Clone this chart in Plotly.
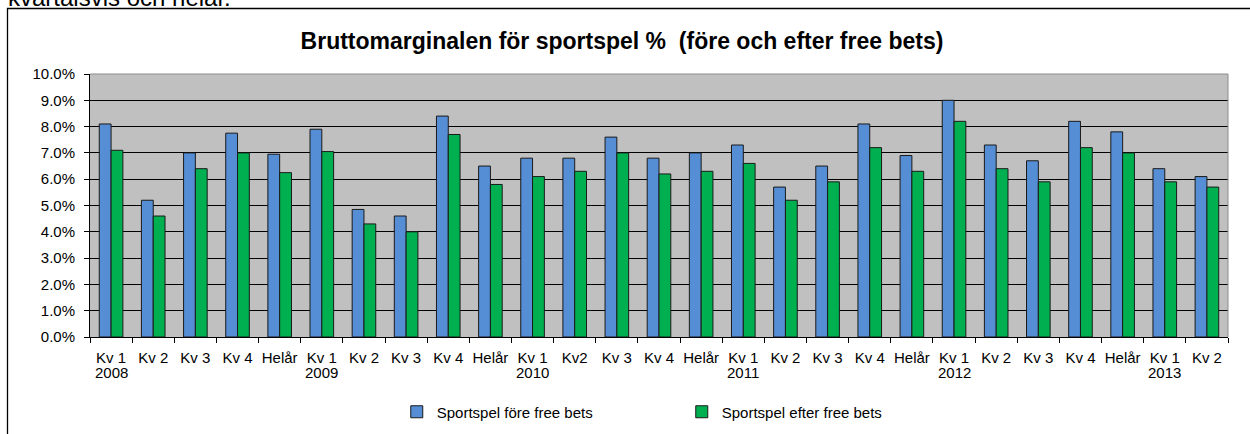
import plotly.graph_objects as go

# ---- data ----
periods = [
    ("2008", "Kv 1"), ("2008", "Kv 2"), ("2008", "Kv 3"), ("2008", "Kv 4"), ("2008", "Helår"),
    ("2009", "Kv 1"), ("2009", "Kv 2"), ("2009", "Kv 3"), ("2009", "Kv 4"), ("2009", "Helår"),
    ("2010", "Kv 1"), ("2010", "Kv2"), ("2010", "Kv 3"), ("2010", "Kv 4"), ("2010", "Helår"),
    ("2011", "Kv 1"), ("2011", "Kv 2"), ("2011", "Kv 3"), ("2011", "Kv 4"), ("2011", "Helår"),
    ("2012", "Kv 1"), ("2012", "Kv 2"), ("2012", "Kv 3"), ("2012", "Kv 4"), ("2012", "Helår"),
    ("2013", "Kv 1"), ("2013", "Kv 2"),
]
fore_free_bets = [8.1, 5.2, 7.0, 7.75, 6.95,
                  7.9, 4.85, 4.6, 8.4, 6.5,
                  6.8, 6.8, 7.6, 6.8, 7.0,
                  7.3, 5.7, 6.5, 8.1, 6.9,
                  9.0, 7.3, 6.7, 8.2, 7.8,
                  6.4, 6.1]
efter_free_bets = [7.1, 4.6, 6.4, 7.0, 6.25,
                   7.05, 4.3, 4.0, 7.7, 5.8,
                   6.1, 6.3, 7.0, 6.2, 6.3,
                   6.6, 5.2, 5.9, 7.2, 6.3,
                   8.2, 6.4, 5.9, 7.2, 7.0,
                   5.9, 5.7]
y_ticks = [0, 1, 2, 3, 4, 5, 6, 7, 8, 9, 10]
y_tick_labels = ["0.0%", "1.0%", "2.0%", "3.0%", "4.0%", "5.0%",
                 "6.0%", "7.0%", "8.0%", "9.0%", "10.0%"]

categories = [f"{y} {p}" for y, p in periods]
tick_text = [p for _, p in periods]
year_first_cat = {}
for cat, (y, p) in zip(categories, periods):
    year_first_cat.setdefault(y, cat)

FONT = "Arial, 'Liberation Sans', sans-serif"
W, H = 1250, 434
L, R, T, B = 90, 22, 74, 97
PW, PH = W - L - R, H - T - B


def px_x(p):
    return (p - L) / PW


def px_y(p):
    return (H - B - p) / PH


fig = go.Figure()
fig.add_trace(go.Bar(
    x=categories, y=fore_free_bets, name="Sportspel före free bets",
    marker=dict(color="#558ED5", line=dict(color="#1a1a1a", width=1)),
))
fig.add_trace(go.Bar(
    x=categories, y=efter_free_bets, name="Sportspel efter free bets",
    marker=dict(color="#00B050", line=dict(color="#1a1a1a", width=1)),
))

fig.update_layout(
    width=W, height=H,
    margin=dict(l=L, r=R, t=T, b=B, autoexpand=False),
    paper_bgcolor="white",
    plot_bgcolor="#C0C0C0",
    barmode="group", bargap=0.44, bargroupgap=0,
    font=dict(family=FONT, size=15, color="#000"),
    title=dict(text="<b>Bruttomarginalen för sportspel % &nbsp;(före och efter free bets)</b>",
               font=dict(family=FONT, size=23, color="#000"),
               x=(622 / W), xanchor="center", y=1 - 41 / H, yanchor="middle"),
    legend=dict(orientation="h", x=0.52, xanchor="center",
                yref="container", y=1 - 412 / H, yanchor="middle",
                font=dict(family=FONT, size=15, color="#000"),
                entrywidth=240, entrywidthmode="pixels", itemwidth=30,
                bgcolor="rgba(0,0,0,0)"),
    showlegend=True,
)
fig.update_xaxes(
    type="category", tickmode="array", tickvals=categories, ticktext=tick_text,
    tickson="boundaries", ticks="outside", ticklen=5, tickcolor="#000", tickwidth=1,
    showline=True, linecolor="#000", linewidth=1, showgrid=False, automargin=False,
    tickfont=dict(family=FONT, size=15, color="#000"), tickangle=0, ticklabelstandoff=7,
)
fig.update_yaxes(
    range=[0, 10], tickmode="array", tickvals=y_ticks, ticktext=y_tick_labels,
    ticks="outside", ticklen=5, tickcolor="#000", automargin=False,
    showline=True, linecolor="#000", linewidth=1,
    showgrid=True, gridcolor="#000", gridwidth=1, zeroline=False,
    tickfont=dict(family=FONT, size=15, color="#000"), ticklabelstandoff=6,
)

# year labels under the first quarter of each year
for y, cat in year_first_cat.items():
    fig.add_annotation(text=y, xref="x", yref="paper", x=cat, y=px_y(372.5),
                       xanchor="center", yanchor="middle", showarrow=False,
                       font=dict(family=FONT, size=15, color="#000"))

# plot-area border (top/right, grey) and outer frame
fig.add_shape(type="line", xref="paper", yref="paper", x0=0, x1=1, y0=1, y1=1,
              line=dict(color="#8c8c8c", width=1))
fig.add_shape(type="line", xref="paper", yref="paper", x0=1, x1=1, y0=0, y1=1,
              line=dict(color="#8c8c8c", width=1))
fig.add_shape(type="rect", xref="paper", yref="paper",
              x0=px_x(7.5), x1=px_x(1275), y0=px_y(450), y1=px_y(8.5),
              line=dict(color="#000", width=1.3), fillcolor="rgba(0,0,0,0)", layer="below")

fig.add_annotation(text="kvartalsvis och helår.", xref="paper", yref="paper",
                   x=px_x(6), xanchor="left", y=px_y(-3), yanchor="middle",
                   showarrow=False, font=dict(family=FONT, size=24, color="#000"))

fig.write_html("out.html",
               config={"displayModeBar": False},
               post_script="document.body.style.margin='0';document.body.style.overflow='hidden';")
